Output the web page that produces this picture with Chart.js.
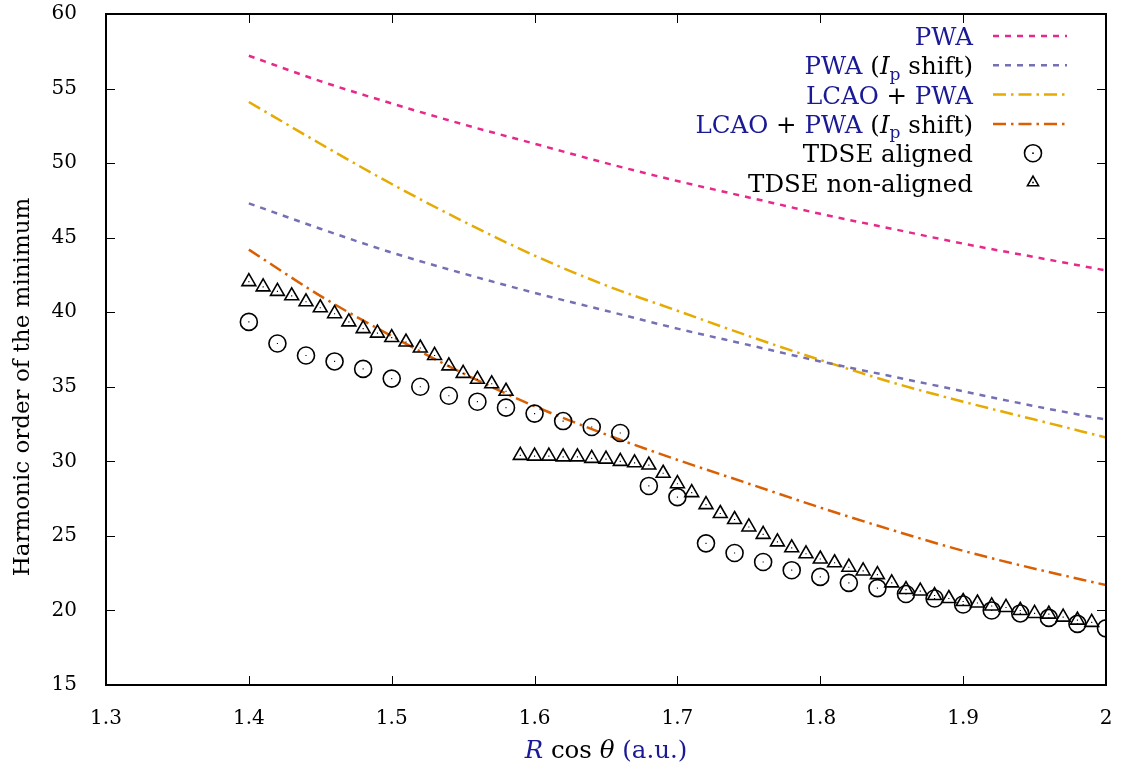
<!DOCTYPE html>
<html>
<head>
<meta charset="utf-8">
<script src="https://cdn.jsdelivr.net/npm/chart.js@4.4.1/dist/chart.umd.min.js"></script>
<style>
  html, body { margin: 0; padding: 0; background: #fff; }
  #wrap { width: 1123px; height: 778px; }
</style>
</head>
<body>
<div id="wrap"><canvas id="minChart"></canvas></div>
<script>
// model curves
const xModel = [1.40, 1.45, 1.50, 1.55, 1.60, 1.65, 1.70, 1.75, 1.80, 1.85, 1.90, 1.95, 2.00];
const pwa = [57.2, 55.5, 54.0, 52.6, 51.3, 50.0, 48.8, 47.7, 46.6, 45.6, 44.6, 43.7, 42.8];
const pwaShift = [47.3, 45.6, 44.0, 42.6, 41.3, 40.1, 38.9, 37.8, 36.7, 35.7, 34.7, 33.7, 32.8];
const lcaoPwa = [54.1, 51.3, 48.6, 46.1, 43.8, 41.8, 40.1, 38.4, 36.8, 35.3, 34.0, 32.8, 31.6];
const lcaoPwaShift = [44.2, 41.1, 38.4, 35.9, 33.7, 31.8, 30.1, 28.5, 26.9, 25.4, 24.0, 22.8, 21.7];

// TDSE aligned (circles)
const xAligned = [1.40, 1.42, 1.44, 1.46, 1.48, 1.50, 1.52, 1.54, 1.56, 1.58, 1.60, 1.62, 1.64, 1.66, 1.68, 1.70,
  1.72, 1.74, 1.76, 1.78, 1.80, 1.82, 1.84, 1.86, 1.88, 1.90, 1.92, 1.94, 1.96, 1.98, 2.00];
const tdseAligned = [39.35, 37.9, 37.1, 36.7, 36.2, 35.55, 35.0, 34.4, 34.0, 33.6, 33.2, 32.7, 32.3, 31.9, 28.35, 27.6,
  24.5, 23.85, 23.25, 22.7, 22.25, 21.85, 21.5, 21.1, 20.8, 20.4, 20.0, 19.8, 19.5, 19.1, 18.8];

// TDSE non-aligned (triangles)
const xNonAligned = [1.40, 1.41, 1.42, 1.43, 1.44, 1.45, 1.46, 1.47, 1.48, 1.49, 1.50, 1.51, 1.52, 1.53, 1.54, 1.55,
  1.56, 1.57, 1.58, 1.59, 1.60, 1.61, 1.62, 1.63, 1.64, 1.65, 1.66, 1.67, 1.68, 1.69, 1.70, 1.71, 1.72, 1.73, 1.74,
  1.75, 1.76, 1.77, 1.78, 1.79, 1.80, 1.81, 1.82, 1.83, 1.84, 1.85, 1.86, 1.87, 1.88, 1.89, 1.90, 1.91, 1.92, 1.93,
  1.94, 1.95, 1.96, 1.97, 1.98, 1.99];
const tdseNonAligned = [42.05, 41.7, 41.4, 41.1, 40.7, 40.3, 39.9, 39.35, 38.9, 38.6, 38.3, 38.0, 37.6, 37.1, 36.4, 35.9,
  35.5, 35.2, 34.7, 30.4, 30.35, 30.35, 30.3, 30.3, 30.2, 30.15, 30.0, 29.9, 29.75, 29.2, 28.5, 27.9, 27.1, 26.5, 26.1,
  25.6, 25.1, 24.6, 24.2, 23.8, 23.45, 23.2, 22.9, 22.65, 22.4, 21.85, 21.4, 21.3, 21.0, 20.8, 20.6, 20.5, 20.3, 20.2,
  20.0, 19.8, 19.75, 19.55, 19.35, 19.2];

const BLUE = '#1a1a96';
const BLACK = '#000';
const FONT = '"DejaVu Serif", "Liberation Serif", serif';

// legend text pieces: [text, colour, style]
const legendRows = [
  [['PWA', BLUE]],
  [['PWA ', BLUE], ['(', BLACK], ['I', BLACK, 'italic'], ['p', BLUE, 'sub'], [' shift)', BLACK]],
  [['LCAO', BLUE], [' + ', BLACK], ['PWA', BLUE]],
  [['LCAO', BLUE], [' + ', BLACK], ['PWA ', BLUE], ['(', BLACK], ['I', BLACK, 'italic'], ['p', BLUE, 'sub'], [' shift)', BLACK]],
  [['TDSE aligned', BLACK]],
  [['TDSE non-aligned', BLACK]]
];
const xTitle = [['R', BLUE, 'italic'], [' cos ', BLACK], ['θ', BLACK, 'italic'], [' (a.u.)', BLUE]];
const yTitle = 'Harmonic order of the minimum';

const pts = (xs, ys) => xs.map((x, i) => ({ x: x, y: ys[i] }));

function setFont(ctx, size, style) {
  const it = style === 'italic' ? 'italic ' : '';
  const sz = style === 'sub' ? size * 0.7 : size;
  ctx.font = it + sz + 'px ' + FONT;
}
function piecesWidth(ctx, pieces, size) {
  let w = 0;
  pieces.forEach(p => { setFont(ctx, size, p[2]); w += ctx.measureText(p[0]).width; });
  return w;
}
function drawPieces(ctx, pieces, x, baseline, size) {
  pieces.forEach(p => {
    setFont(ctx, size, p[2]);
    ctx.fillStyle = p[1];
    const dy = p[2] === 'sub' ? size * 0.22 : 0;
    ctx.fillText(p[0], x, baseline + dy);
    x += ctx.measureText(p[0]).width;
  });
}

const frame = {
  id: 'frame',
  afterDraw(chart) {
    const ctx = chart.ctx;
    const a = chart.chartArea;
    const xs = chart.scales.x, ys = chart.scales.y;
    ctx.save();
    ctx.strokeStyle = '#000';
    ctx.lineWidth = 1;
    const tl = 9;
    xs.ticks.forEach(t => {
      const px = Math.round(xs.getPixelForValue(t.value)) + 0.5;
      ctx.beginPath();
      ctx.moveTo(px, a.bottom); ctx.lineTo(px, a.bottom - tl);
      ctx.moveTo(px, a.top); ctx.lineTo(px, a.top + tl);
      ctx.stroke();
    });
    ys.ticks.forEach(t => {
      const py = Math.round(ys.getPixelForValue(t.value)) + 0.5;
      ctx.beginPath();
      ctx.moveTo(a.left, py); ctx.lineTo(a.left + tl, py);
      ctx.moveTo(a.right, py); ctx.lineTo(a.right - tl, py);
      ctx.stroke();
    });
    ctx.lineWidth = 2;
    ctx.strokeRect(a.left, a.top, a.right - a.left, a.bottom - a.top);
    ctx.textBaseline = 'alphabetic';

    // x axis title
    const ts = 24.5;
    const tw = piecesWidth(ctx, xTitle, ts);
    drawPieces(ctx, xTitle, (a.left + a.right) / 2 - tw / 2, 758, ts);

    // y axis title
    ctx.save();
    ctx.translate(29, 387);
    ctx.rotate(-Math.PI / 2);
    ctx.font = '23px ' + FONT;
    ctx.fillStyle = '#000';
    ctx.textAlign = 'center';
    ctx.fillText(yTitle, 0, 0);
    ctx.restore();

    // legend
    const ls = 24.5;
    const textRight = 973, sx0 = 993, sx1 = 1067, sym = 1033;
    legendRows.forEach((row, i) => {
      const cy = 36 + i * 29.3;
      const w = piecesWidth(ctx, row, ls);
      drawPieces(ctx, row, textRight - w, cy + 9, ls);
      const ds = chart.data.datasets[i];
      ctx.strokeStyle = ds.borderColor;
      if (ds.showLine !== false) {
        ctx.lineWidth = ds.borderWidth;
        ctx.setLineDash(ds.borderDash);
        ctx.beginPath();
        ctx.moveTo(sx0, cy); ctx.lineTo(sx1, cy);
        ctx.stroke();
        ctx.setLineDash([]);
      } else {
        ctx.lineWidth = ds.borderWidth;
        ctx.beginPath();
        if (ds.pointStyle === 'circle') {
          ctx.arc(sym, cy, ds.pointRadius, 0, Math.PI * 2);
        } else {
          const r = ds.pointRadius * 0.8;
          for (let k = 0; k < 3; k++) {
            const ang = k * 2 * Math.PI / 3;
            const px = sym + Math.sin(ang) * r, py = cy - Math.cos(ang) * r;
            if (k === 0) ctx.moveTo(px, py); else ctx.lineTo(px, py);
          }
          ctx.closePath();
        }
        ctx.stroke();
        ctx.fillStyle = '#000';
        ctx.fillRect(sym - 0.8, cy - 0.8, 1.6, 1.6);
      }
    });
    ctx.restore();
  }
};

const ctx = document.getElementById('minChart').getContext('2d');
const minChart = new Chart(ctx, {
  type: 'scatter',
  data: {
    datasets: [
      { label: 'PWA', data: pts(xModel, pwa), showLine: true, borderColor: '#e7298a', borderWidth: 2.5,
        borderDash: [6, 6], pointRadius: 0, tension: 0.4, cubicInterpolationMode: 'monotone', order: 5 },
      { label: 'PWA (Ip shift)', data: pts(xModel, pwaShift), showLine: true, borderColor: '#7570b3', borderWidth: 2.5,
        borderDash: [6, 6], pointRadius: 0, tension: 0.4, cubicInterpolationMode: 'monotone', order: 5 },
      { label: 'LCAO + PWA', data: pts(xModel, lcaoPwa), showLine: true, borderColor: '#e6ab02', borderWidth: 2.5,
        borderDash: [13, 5, 2.5, 5], pointRadius: 0, tension: 0.4, cubicInterpolationMode: 'monotone', order: 5 },
      { label: 'LCAO + PWA (Ip shift)', data: pts(xModel, lcaoPwaShift), showLine: true, borderColor: '#d95f02', borderWidth: 2.5,
        borderDash: [13, 5, 2.5, 5], pointRadius: 0, tension: 0.4, cubicInterpolationMode: 'monotone', order: 5 },
      { label: 'TDSE aligned', data: pts(xAligned, tdseAligned), showLine: false, pointStyle: 'circle', pointRadius: 8.5,
        borderColor: '#000', borderWidth: 1.6, backgroundColor: 'rgba(0,0,0,0)', order: 2 },
      { label: 'TDSE non-aligned', data: pts(xNonAligned, tdseNonAligned), showLine: false, pointStyle: 'triangle',
        pointRadius: 8, borderColor: '#000', borderWidth: 1.6, backgroundColor: 'rgba(0,0,0,0)', order: 1 },
      // centre dots of the symbols
      { label: 'dots a', data: pts(xAligned, tdseAligned), showLine: false, pointStyle: 'rect', pointRadius: 0.8,
        borderWidth: 0, backgroundColor: '#000', order: 0 },
      { label: 'dots n', data: pts(xNonAligned, tdseNonAligned), showLine: false, pointStyle: 'rect', pointRadius: 0.8,
        borderWidth: 0, backgroundColor: '#000', order: 0 }
    ]
  },
  options: {
    responsive: true,
    maintainAspectRatio: false,
    animation: false,
    layout: { padding: { left: 0, top: 14, right: 17, bottom: 0 } },
    plugins: { legend: { display: false }, tooltip: { enabled: false } },
    scales: {
      x: {
        type: 'linear', min: 1.3, max: 2,
        grid: { display: false }, border: { display: false },
        ticks: { stepSize: 0.1, color: '#000', padding: 14, font: { family: FONT, size: 20 },
          callback: v => String(Number(v.toFixed(1))) },
        afterFit: s => { s.height = 93; s.paddingLeft = 0; s.paddingRight = 0; }
      },
      y: {
        min: 15, max: 60,
        grid: { display: false }, border: { display: false },
        ticks: { stepSize: 5, color: '#000', padding: 21, font: { family: FONT, size: 20 } },
        afterFit: s => { s.width = 106; s.paddingTop = 0; s.paddingBottom = 0; }
      }
    }
  },
  plugins: [frame]
});
</script>
</body>
</html>
